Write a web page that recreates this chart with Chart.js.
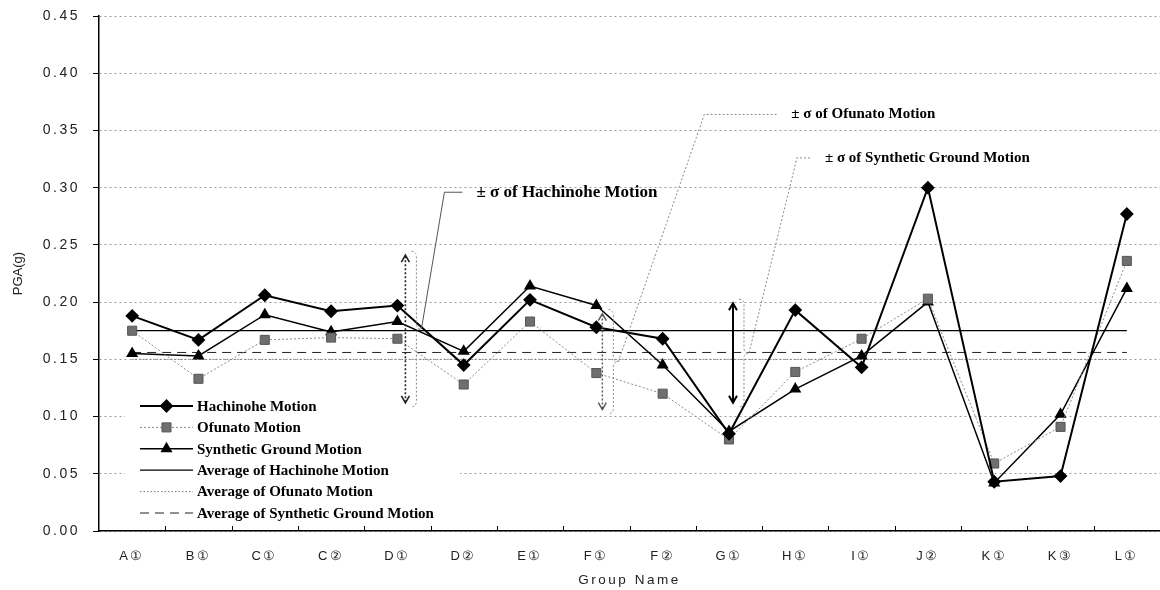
<!DOCTYPE html>
<html>
<head>
<meta charset="utf-8">
<script src="https://cdn.jsdelivr.net/npm/chart.js@4.4.0/dist/chart.umd.min.js"></script>
<style>
  html, body { margin: 0; padding: 0; background: #fff; }
</style>
</head>
<body>
<canvas id="chart" width="1160" height="590"></canvas>
<script>
const groups = ['A①','B①','C①','C②','D①','D②','E①','F①','F②','G①','H①','I①','J②','K①','K③','L①'];
const hachinohe = [0.188,0.167,0.206,0.192,0.197,0.145,0.202,0.178,0.168,0.085,0.193,0.143,0.300,0.043,0.048,0.277];
const ofunato   = [0.175,0.133,0.167,0.169,0.168,0.128,0.183,0.138,0.120,0.080,0.139,0.168,0.203,0.059,0.091,0.236];
const synthetic = [0.155,0.153,0.189,0.174,0.183,0.157,0.214,0.197,0.145,0.087,0.124,0.153,0.200,0.042,0.102,0.212];
const avgHachinohe = 0.175;
const avgOfunato = 0.150;
const avgSynthetic = 0.156;
const yTicks = [0, 0.05, 0.10, 0.15, 0.20, 0.25, 0.30, 0.35, 0.40, 0.45];

// ± sigma ranges drawn as arrows
const sigmaGroups = ['D①', 'F①', 'G①'];
const sigmaLow  = [0.112, 0.106, 0.112];
const sigmaHigh = [0.241, 0.190, 0.199];
const sigmaLabels = ['± σ of Hachinohe Motion', '± σ of Ofunato Motion', '± σ of Synthetic Ground Motion'];

const serif = '"Liberation Serif", "DejaVu Serif", serif';
const sans = '"Liberation Sans", Arial, sans-serif';

// spaced-out axis lettering, like the scanned original
const spacing = {
  id: 'spacing',
  beforeDraw(chart) { chart.ctx.letterSpacing = '2.5px'; },
  afterDraw(chart) {
    const {ctx, chartArea: ca} = chart;
    const xs = chart.scales.x;
    ctx.save();
    ctx.letterSpacing = '0px';
    // y title
    ctx.translate(18, (ca.top + ca.bottom) / 2);
    ctx.rotate(-Math.PI / 2);
    ctx.fillStyle = '#222';
    ctx.font = '13px ' + sans;
    ctx.textAlign = 'center';
    ctx.textBaseline = 'middle';
    ctx.fillText('PGA(g)', 0, 0);
    ctx.restore();
    // x ticks pointing into the plot, at group boundaries
    ctx.save();
    ctx.strokeStyle = '#000';
    ctx.lineWidth = 1;
    ctx.beginPath();
    for (let i = 0; i < groups.length; i++) {
      const bx = Math.round((xs.getPixelForValue(i) + xs.getPixelForValue(i + 1)) / 2) + 0.5;
      ctx.moveTo(bx, ca.bottom);
      ctx.lineTo(bx, ca.bottom - 5);
    }
    ctx.stroke();
    ctx.restore();
  }
};

// white legend box in the lower left of the plot
const legendBox = {
  id: 'legendBox',
  beforeDatasetsDraw(chart) {
    const {ctx, chartArea: ca} = chart;
    ctx.save();
    ctx.fillStyle = '#fff';
    ctx.fillRect(ca.left + 26, ca.bottom - 137, 335, 131);
    ctx.restore();
  },
  afterDatasetsDraw(chart) {
    const {ctx, chartArea: ca} = chart;
    ctx.save();
    ctx.letterSpacing = '0px';
    chart.data.datasets.forEach((ds, i) => {
      const y = ca.bottom - 125 + i * 21.4;
      const x0 = ca.left + 41, x1 = ca.left + 94;
      ctx.beginPath();
      ctx.setLineDash(ds.borderDash || []);
      ctx.lineWidth = ds.borderWidth;
      ctx.strokeStyle = ds.borderColor;
      ctx.moveTo(x0, y);
      ctx.lineTo(x1, y);
      ctx.stroke();
      ctx.setLineDash([]);
      if (ds.pointRadius > 0) {
        ctx.fillStyle = ds.pointBackgroundColor || ds.borderColor;
        ctx.strokeStyle = ds.pointBorderColor || ds.borderColor;
        Chart.helpers.drawPoint(ctx, {pointStyle: ds.pointStyle, radius: ds.pointRadius, rotation: 0, borderWidth: 1}, (x0 + x1) / 2, y);
      }
      ctx.fillStyle = '#000';
      ctx.font = 'bold 15px ' + serif;
      ctx.textBaseline = 'middle';
      ctx.fillText(ds.label, ca.left + 98, y + 1);
    });
    ctx.restore();
  }
};

// sigma arrows, brackets and callouts
const sigmaNotes = {
  id: 'sigmaNotes',
  afterDatasetsDraw(chart) {
    const {ctx} = chart;
    const xs = chart.scales.x, ys = chart.scales.y;
    const shift = [8, 6, 4];
    const elbow = [39, 102, 64];
    const run = [18, 73, 14];
    const textAt = [0.296, 0.364, 0.326];
    const textSize = [17, 15, 15];
    const arrowStyle = [
      {color: '#222', dash: [2, 2], width: 1.6},
      {color: '#555', dash: [2, 2], width: 1.4},
      {color: '#000', dash: [], width: 2}
    ];
    const calloutStyle = [
      {color: '#555', dash: []},
      {color: '#888', dash: [2, 2]},
      {color: '#888', dash: [2, 2]}
    ];
    ctx.save();
    ctx.letterSpacing = '0px';
    sigmaGroups.forEach((g, i) => {
      const ax = xs.getPixelForValue(groups.indexOf(g)) + shift[i];
      const top = ys.getPixelForValue(sigmaHigh[i]);
      const bot = ys.getPixelForValue(sigmaLow[i]);
      const mid = (top + bot) / 2;
      const st = arrowStyle[i];
      ctx.strokeStyle = st.color;
      ctx.lineWidth = st.width;
      ctx.setLineDash(st.dash);
      ctx.beginPath();
      ctx.moveTo(ax, top + 1);
      ctx.lineTo(ax, bot - 1);
      ctx.stroke();
      ctx.setLineDash([]);
      ctx.beginPath();
      ctx.moveTo(ax - 4, top + 7); ctx.lineTo(ax, top); ctx.lineTo(ax + 4, top + 7);
      ctx.moveTo(ax - 4, bot - 7); ctx.lineTo(ax, bot); ctx.lineTo(ax + 4, bot - 7);
      ctx.stroke();

      // bracket
      const bx = ax + 6;
      ctx.strokeStyle = '#888';
      ctx.lineWidth = 1;
      ctx.setLineDash([2, 2]);
      ctx.beginPath();
      ctx.moveTo(bx, top - 4);
      ctx.quadraticCurveTo(bx + 5, top - 4, bx + 5, top + 2);
      ctx.lineTo(bx + 5, mid - 5);
      ctx.quadraticCurveTo(bx + 5, mid, bx + 10, mid);
      ctx.quadraticCurveTo(bx + 5, mid, bx + 5, mid + 5);
      ctx.lineTo(bx + 5, bot - 2);
      ctx.quadraticCurveTo(bx + 5, bot + 4, bx, bot + 4);
      ctx.stroke();

      // callout line
      const ty = ys.getPixelForValue(textAt[i]);
      const cs = calloutStyle[i];
      ctx.strokeStyle = cs.color;
      ctx.setLineDash(cs.dash);
      ctx.beginPath();
      ctx.moveTo(bx + 10, mid);
      ctx.lineTo(ax + elbow[i], ty);
      ctx.lineTo(ax + elbow[i] + run[i], ty);
      ctx.stroke();
      ctx.setLineDash([]);

      ctx.fillStyle = '#000';
      ctx.font = 'bold ' + textSize[i] + 'px ' + serif;
      ctx.textBaseline = 'middle';
      ctx.fillText(sigmaLabels[i], ax + elbow[i] + run[i] + 14, ty);
    });
    ctx.restore();
  }
};

const flat = v => groups.map(() => v);

new Chart(document.getElementById('chart'), {
  type: 'line',
  data: {
    labels: groups,
    datasets: [
      {label: 'Hachinohe Motion', data: hachinohe, borderColor: '#000', backgroundColor: '#000',
       pointBackgroundColor: '#000', pointBorderColor: '#000', borderWidth: 2,
       pointStyle: 'rectRot', pointRadius: 5.5},
      {label: 'Ofunato Motion', data: ofunato, borderColor: '#8a8a8a', borderDash: [2, 2], borderWidth: 1,
       pointBackgroundColor: '#6f6f6f', pointBorderColor: '#555', pointBorderWidth: 1,
       pointStyle: 'rect', pointRadius: 6.4},
      {label: 'Synthetic Ground Motion', data: synthetic, borderColor: '#000', backgroundColor: '#000',
       pointBackgroundColor: '#000', pointBorderColor: '#000', borderWidth: 1.5,
       pointStyle: 'triangle', pointRadius: 5.5},
      {label: 'Average of Hachinohe Motion', data: flat(avgHachinohe), borderColor: '#000', borderWidth: 1.3, pointRadius: 0},
      {label: 'Average of Ofunato Motion', data: flat(avgOfunato), borderColor: '#777', borderDash: [1.5, 2], borderWidth: 1, pointRadius: 0},
      {label: 'Average of Synthetic Ground Motion', data: flat(avgSynthetic), borderColor: '#222', borderDash: [9, 6], borderWidth: 1, pointRadius: 0}
    ]
  },
  options: {
    responsive: false,
    animation: false,
    layout: {autoPadding: false, padding: {top: 16, right: 0, left: 0, bottom: 0}},
    plugins: {legend: {display: false}, tooltip: {enabled: false}},
    elements: {line: {tension: 0}},
    scales: {
      x: {
        offset: true,
        afterFit: s => { s.height = 59; s.paddingLeft = 0; s.paddingRight = 0; },
        grid: {offset: true, drawOnChartArea: false, drawTicks: false},
        border: {color: '#000', width: 1.5},
        ticks: {color: '#222', padding: 18, autoSkip: false, maxRotation: 0,
                font: {family: sans, size: 13}},
        title: {display: true, text: 'Group Name', color: '#222', padding: {top: 0, bottom: 2},
                font: {family: sans, size: 13.5}}
      },
      y: {
        min: 0,
        max: 0.45,
        afterFit: s => { s.width = 99; s.paddingTop = 0; s.paddingBottom = 0; },
        afterBuildTicks: s => { s.ticks = yTicks.map(v => ({value: v})); },
        grid: {color: '#9a9a9a', lineWidth: 1, tickLength: 6, tickColor: '#000'},
        border: {color: '#000', width: 1.5, dash: [2, 3]},
        ticks: {color: '#222', padding: 13, callback: v => v.toFixed(2),
                font: {family: sans, size: 14}}
      }
    }
  },
  plugins: [spacing, legendBox, sigmaNotes]
});
</script>
</body>
</html>
